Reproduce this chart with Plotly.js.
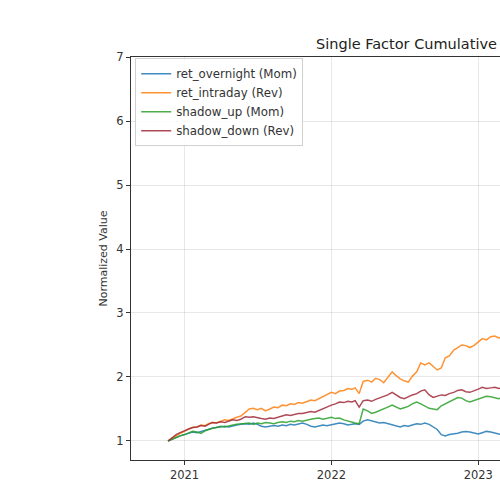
<!DOCTYPE html>
<html>
<head>
<meta charset="utf-8">
<script src="https://cdn.plot.ly/plotly-3.0.1.min.js"></script>
<style>
html,body{margin:0;padding:0;overflow:hidden;background:#fff;}
#chart{width:800px;height:500px;}
</style>
</head>
<body>
<div id="chart"></div>
<script>
const dates = [
"2020-11-21","2020-12-01","2020-12-11","2020-12-21",
"2021-01-01","2021-01-11","2021-01-21","2021-02-01","2021-02-11","2021-02-21","2021-03-01","2021-03-11","2021-03-21",
"2021-04-01","2021-04-11","2021-04-21","2021-05-01","2021-05-11","2021-05-21","2021-06-01","2021-06-11","2021-06-21",
"2021-07-01","2021-07-11","2021-07-21","2021-08-01","2021-08-11","2021-08-21","2021-09-01","2021-09-11","2021-09-21",
"2021-10-01","2021-10-11","2021-10-21","2021-11-01","2021-11-11","2021-11-21","2021-12-01","2021-12-11","2021-12-21",
"2022-01-01","2022-01-11","2022-01-21","2022-02-01","2022-02-11","2022-02-21","2022-03-01","2022-03-11","2022-03-21",
"2022-04-01","2022-04-11","2022-04-21","2022-05-01","2022-05-11","2022-05-21","2022-06-01","2022-06-11","2022-06-21",
"2022-07-01","2022-07-11","2022-07-21","2022-08-01","2022-08-11","2022-08-21","2022-09-01","2022-09-11","2022-09-21",
"2022-10-01","2022-10-11","2022-10-21","2022-11-01","2022-11-11","2022-11-21","2022-12-01","2022-12-11","2022-12-21",
"2023-01-01","2023-01-11","2023-01-21","2023-02-01","2023-02-11","2023-02-21","2023-03-01","2023-03-11","2023-03-21"
];
const retOvernight = [
1.00,1.03,1.06,1.08,
1.10,1.12,1.14,1.13,1.15,1.17,1.18,1.20,1.21,
1.22,1.23,1.22,1.24,1.25,1.26,1.27,1.26,1.28,
1.26,1.23,1.22,1.23,1.24,1.23,1.25,1.24,1.26,
1.25,1.27,1.28,1.26,1.23,1.22,1.24,1.25,1.24,
1.25,1.27,1.28,1.27,1.25,1.26,1.27,1.26,1.31,
1.33,1.31,1.30,1.28,1.29,1.27,1.25,1.23,1.22,
1.24,1.23,1.25,1.27,1.26,1.28,1.26,1.22,1.18,
1.10,1.08,1.10,1.11,1.12,1.14,1.15,1.14,1.12,
1.11,1.13,1.15,1.14,1.12,1.11,1.10,1.11,1.09
];
const retIntraday = [
1.00,1.04,1.09,1.12,
1.15,1.19,1.21,1.22,1.25,1.24,1.27,1.29,1.28,
1.31,1.33,1.32,1.35,1.37,1.39,1.45,1.50,1.51,
1.49,1.51,1.47,1.50,1.53,1.52,1.56,1.55,1.58,
1.57,1.60,1.59,1.62,1.64,1.63,1.66,1.70,1.72,
1.76,1.74,1.78,1.79,1.82,1.81,1.83,1.74,1.93,
1.95,1.92,1.98,1.96,1.91,1.99,2.08,2.02,1.97,
1.94,1.92,2.01,2.08,2.22,2.19,2.22,2.17,2.11,
2.14,2.30,2.33,2.42,2.46,2.50,2.49,2.46,2.49,
2.55,2.60,2.58,2.63,2.64,2.61,2.62,2.60,2.63
];
const shadowUp = [
1.00,1.03,1.06,1.08,
1.10,1.13,1.15,1.14,1.12,1.16,1.18,1.20,1.21,
1.23,1.22,1.24,1.25,1.26,1.27,1.27,1.28,1.26,
1.28,1.27,1.29,1.28,1.27,1.29,1.30,1.29,1.31,
1.30,1.32,1.31,1.33,1.34,1.35,1.36,1.34,1.36,
1.37,1.35,1.36,1.33,1.31,1.29,1.28,1.27,1.50,
1.47,1.43,1.45,1.48,1.51,1.53,1.56,1.53,1.50,
1.52,1.54,1.58,1.61,1.58,1.55,1.51,1.50,1.49,
1.55,1.58,1.62,1.64,1.68,1.67,1.63,1.61,1.63,
1.66,1.68,1.70,1.69,1.67,1.66,1.68,1.67,1.66
];
const shadowDown = [
1.00,1.05,1.10,1.13,
1.16,1.19,1.21,1.22,1.24,1.23,1.26,1.29,1.28,
1.30,1.29,1.31,1.33,1.32,1.34,1.38,1.37,1.38,
1.36,1.35,1.34,1.36,1.35,1.37,1.39,1.41,1.40,
1.42,1.43,1.43,1.45,1.46,1.45,1.48,1.51,1.54,
1.56,1.58,1.61,1.60,1.62,1.61,1.63,1.53,1.63,
1.64,1.62,1.65,1.67,1.69,1.72,1.76,1.72,1.68,
1.66,1.69,1.72,1.74,1.78,1.80,1.72,1.68,1.70,
1.72,1.71,1.74,1.76,1.79,1.80,1.77,1.76,1.78,
1.81,1.84,1.82,1.83,1.84,1.82,1.83,1.84,1.82
];
const seriesNames = ["ret_overnight (Mom)","ret_intraday (Rev)","shadow_up (Mom)","shadow_down (Rev)"];
const seriesColors = ["#1f77b4","#ff7f0e","#2ca02c","#a02a3a"];
const seriesValues = [retOvernight, retIntraday, shadowUp, shadowDown];
const yearTicks = ["2021-01-01","2022-01-01","2023-01-01"];
const yearLabels = ["2021","2022","2023"];
const yTicks = [1,2,3,4,5,6,7];

const traces = seriesValues.map((vals, i) => ({
  x: dates, y: vals, type: "scatter", mode: "lines",
  name: seriesNames[i],
  line: {color: seriesColors[i], width: 1.5},
  opacity: 0.85
}));

const font = {family: "DejaVu Sans, sans-serif", size: 11.5, color: "#333"};
const layout = {
  width: 800, height: 500,
  margin: {l: 131, r: 69, t: 57, b: 40},
  paper_bgcolor: "#fff", plot_bgcolor: "#fff",
  font: font,
  title: {
    text: "Single Factor Cumulative",
    font: {family: "DejaVu Sans, sans-serif", size: 14.5, color: "#222"},
    xref: "container", x: 316/800, xanchor: "left",
    yref: "container", y: 1 - 44/500, yanchor: "middle"
  },
  xaxis: {
    type: "date",
    range: ["2020-08-21", "2024-09-20"],
    tickvals: yearTicks, ticktext: yearLabels,
    ticks: "outside", ticklen: 4, tickcolor: "#333",
    showline: true, linecolor: "#333", linewidth: 1, mirror: true,
    showgrid: true, gridcolor: "rgba(0,0,0,0.09)", zeroline: false,
    tickfont: font
  },
  yaxis: {
    range: [0.703, 7.0],
    tickvals: yTicks,
    ticks: "outside", ticklen: 4, tickcolor: "#333",
    showline: true, linecolor: "#333", linewidth: 1, mirror: true,
    showgrid: true, gridcolor: "rgba(0,0,0,0.09)", zeroline: false,
    tickfont: font,
    title: {text: "Normalized Value", font: {family: "DejaVu Sans, sans-serif", size: 11, color: "#333"}, standoff: 6}
  },
  legend: {
    x: 0.007, y: 0.997, xanchor: "left", yanchor: "top",
    bgcolor: "rgba(255,255,255,0.85)", bordercolor: "#d0d0d0", borderwidth: 1,
    font: {family: "DejaVu Sans, sans-serif", size: 11.8, color: "#333"},
    tracegroupgap: 0
  },
  showlegend: true
};
Plotly.newPlot("chart", traces, layout, {displayModeBar: false, staticPlot: true});
</script>
</body>
</html>
